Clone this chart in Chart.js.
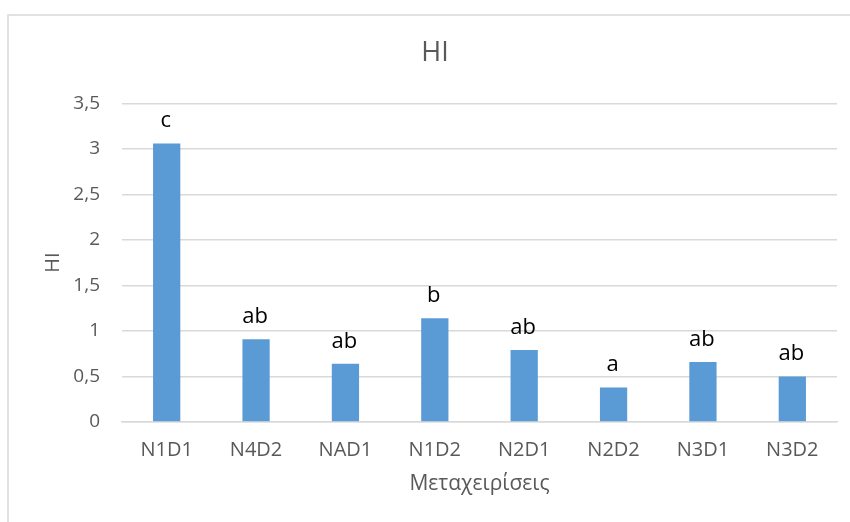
<!DOCTYPE html>
<html>
<head>
<meta charset="utf-8">
<title>HI</title>
<script src="https://cdn.jsdelivr.net/npm/chart.js@4.4.1/dist/chart.umd.min.js"></script>
<style>
    html, body { margin: 0; padding: 0; background: #fff; }
    #wrap { width: 850px; height: 522px; }
</style>
</head>
<body>
<div id="wrap"><canvas id="hiChart" width="850" height="522"></canvas></div>
<script>
const categories = ['N1D1', 'N4D2', 'NAD1', 'N1D2', 'N2D1', 'N2D2', 'N3D1', 'N3D2'];
const hiValues = [3.06, 0.91, 0.64, 1.14, 0.79, 0.38, 0.66, 0.50];
const groupLetters = ['c', 'ab', 'ab', 'b', 'ab', 'a', 'ab', 'ab'];
const yTickValues = [0, 0.5, 1, 1.5, 2, 2.5, 3, 3.5];

const FONT = "'Open Sans', 'Noto Sans', sans-serif";
const GREY_TEXT = '#595959';
const GRID = '#d9d9d9';

// white background + the light frame around the chart
const framePlugin = {
    id: 'frame',
    beforeDraw(chart) {
        const c = chart.ctx;
        c.save();
        c.fillStyle = '#fff';
        c.fillRect(0, 0, chart.width, chart.height);
        c.strokeStyle = GRID;
        c.lineWidth = 1.5;
        c.strokeRect(8, 15, chart.width + 40, chart.height + 40);
        c.restore();
    }
};

// significance letters above each bar
const lettersPlugin = {
    id: 'letters',
    afterDatasetsDraw(chart) {
        const c = chart.ctx;
        const meta = chart.getDatasetMeta(0);
        c.save();
        c.fillStyle = '#000';
        c.font = '22px ' + FONT;
        c.textAlign = 'center';
        c.textBaseline = 'alphabetic';
        meta.data.forEach((bar, i) => {
            c.fillText(groupLetters[i], bar.x - 1, bar.y - 16);
        });
        c.restore();
    }
};

const ctx = document.getElementById('hiChart').getContext('2d');
new Chart(ctx, {
    type: 'bar',
    data: {
        labels: categories,
        datasets: [{
            label: 'HI',
            data: hiValues,
            backgroundColor: '#5b9bd5',
            borderWidth: 0,
            categoryPercentage: 1,
            barPercentage: 0.305
        }]
    },
    options: {
        responsive: false,
        animation: false,
        layout: { padding: { left: 33, right: 13, top: 0, bottom: 0 } },
        plugins: {
            legend: { display: false },
            tooltip: { enabled: false },
            title: {
                display: true,
                text: 'HI',
                color: GREY_TEXT,
                font: { family: FONT, size: 27, weight: 'normal', lineHeight: 1.2 },
                padding: { top: 37, bottom: 34 }
            }
        },
        scales: {
            x: {
                grid: { display: false, drawTicks: false },
                border: { display: true, color: GRID, width: 1.5 },
                ticks: {
                    color: GREY_TEXT,
                    font: { family: FONT, size: 20 },
                    padding: 16,
                    maxRotation: 0,
                    autoSkip: false
                },
                title: {
                    display: true,
                    text: 'Μεταχειρίσεις',
                    color: GREY_TEXT,
                    font: { family: FONT, size: 21, lineHeight: 1.2 },
                    padding: { top: 0, bottom: 25 }
                },
                afterFit(scale) { scale.height = 100; }
            },
            y: {
                min: 0,
                max: 3.5,
                grid: { color: GRID, lineWidth: 1.5, drawTicks: false },
                border: { display: false },
                afterBuildTicks(scale) {
                    scale.ticks = yTickValues.map(v => ({ value: v }));
                },
                ticks: {
                    color: GREY_TEXT,
                    font: { family: FONT, size: 19 },
                    padding: 22,
                    callback: v => String(v).replace('.', ',')
                },
                title: {
                    display: true,
                    text: 'HI',
                    color: GREY_TEXT,
                    font: { family: FONT, size: 20, lineHeight: 1.2 },
                    padding: { top: 8, bottom: 0 }
                },
                afterFit(scale) { scale.width = 89; }
            }
        }
    },
    plugins: [framePlugin, lettersPlugin]
});
</script>
</body>
</html>
